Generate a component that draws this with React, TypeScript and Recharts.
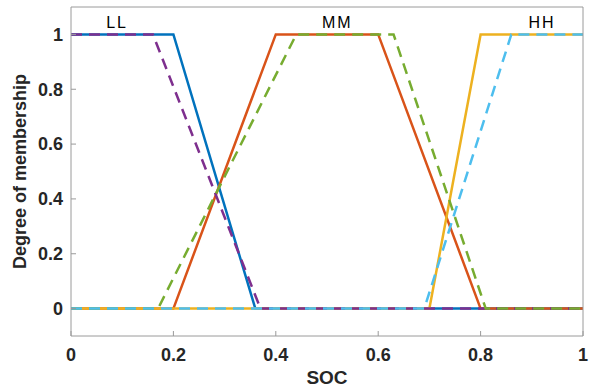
import { LineChart, Line, XAxis, YAxis, ReferenceDot } from 'recharts';

// membership functions: solid = set 1, dashed = set 2
const llSolid = [
  { x: 0, y: 1 },
  { x: 0.2, y: 1 },
  { x: 0.36, y: 0 },
  { x: 1, y: 0 },
];
const mmSolid = [
  { x: 0, y: 0 },
  { x: 0.2, y: 0 },
  { x: 0.4, y: 1 },
  { x: 0.6, y: 1 },
  { x: 0.8, y: 0 },
  { x: 1, y: 0 },
];
const hhSolid = [
  { x: 0, y: 0 },
  { x: 0.7, y: 0 },
  { x: 0.8, y: 1 },
  { x: 1, y: 1 },
];
const llDashed = [
  { x: 0, y: 1 },
  { x: 0.16, y: 1 },
  { x: 0.37, y: 0 },
  { x: 1, y: 0 },
];
const mmDashed = [
  { x: 0, y: 0 },
  { x: 0.17, y: 0 },
  { x: 0.44, y: 1 },
  { x: 0.63, y: 1 },
  { x: 0.81, y: 0 },
  { x: 1, y: 0 },
];
const hhDashed = [
  { x: 0, y: 0 },
  { x: 0.69, y: 0 },
  { x: 0.86, y: 1 },
  { x: 1, y: 1 },
];

const setLabels = [
  { name: 'LL', x: 0.09, y: 1.042 },
  { name: 'MM', x: 0.52, y: 1.042 },
  { name: 'HH', x: 0.92, y: 1.042 },
];

const xTicks = [0, 0.2, 0.4, 0.6, 0.8, 1];
const yTicks = [0, 0.2, 0.4, 0.6, 0.8, 1];

const FONT = '"Liberation Sans", Arial, sans-serif';
const AXIS = '#9a9a9a';
const TEXT = '#262626';

export default function App() {
  const tickStyle = { fontSize: 18, fontWeight: 700, fill: TEXT, fontFamily: FONT };
  const dash = '11 7';

  return (
    <div style={{ position: 'absolute', left: 0, top: 0, background: '#fff' }}>
      <LineChart width={597} height={390} margin={{ top: 6, right: 13, left: 0, bottom: 0 }}>
        <XAxis
          dataKey="x"
          type="number"
          domain={[0, 1]}
          ticks={xTicks}
          height={54}
          stroke={AXIS}
          tickSize={-5}
          tickMargin={17}
          tick={tickStyle}
          label={{
            value: 'SOC',
            position: 'insideBottom',
            offset: 6,
            style: { fontSize: 19, fontWeight: 700, fill: TEXT, fontFamily: FONT },
          }}
        />
        <XAxis
          xAxisId="top"
          orientation="top"
          type="number"
          domain={[0, 1]}
          ticks={xTicks}
          height={1}
          stroke={AXIS}
          tickSize={-5}
          tick={false}
        />
        <YAxis
          type="number"
          domain={[-0.1, 1.1]}
          ticks={yTicks}
          width={71}
          stroke={AXIS}
          tickSize={-5}
          tickMargin={13}
          tick={tickStyle}
          label={{
            value: 'Degree of membership',
            angle: -90,
            position: 'insideLeft',
            offset: 20,
            style: { fontSize: 18, fontWeight: 700, fill: TEXT, fontFamily: FONT, textAnchor: 'middle' },
          }}
        />
        <YAxis
          yAxisId="right"
          orientation="right"
          type="number"
          domain={[-0.1, 1.1]}
          ticks={yTicks}
          width={1}
          stroke={AXIS}
          tickSize={-5}
          tick={false}
        />

        {/* solid set */}
        <Line data={llSolid} dataKey="y" stroke="#0072BD" strokeWidth={2.5} dot={false} isAnimationActive={false} />
        <Line data={mmSolid} dataKey="y" stroke="#D95319" strokeWidth={2.5} dot={false} isAnimationActive={false} />
        <Line data={hhSolid} dataKey="y" stroke="#EDB120" strokeWidth={2.5} dot={false} isAnimationActive={false} />

        {/* dashed set */}
        <Line data={llDashed} dataKey="y" stroke="#7E2F8E" strokeWidth={2.5} strokeDasharray={dash} dot={false} isAnimationActive={false} />
        <Line data={mmDashed} dataKey="y" stroke="#77AC30" strokeWidth={2.5} strokeDasharray={dash} dot={false} isAnimationActive={false} />
        <Line data={hhDashed} dataKey="y" stroke="#4DBEEE" strokeWidth={2.5} strokeDasharray={dash} dot={false} isAnimationActive={false} />

        {setLabels.map((s) => (
          <ReferenceDot
            key={s.name}
            x={s.x}
            y={s.y}
            r={1}
            shape={(p: any) => (
              <text
                x={p.cx}
                y={p.cy}
                textAnchor="middle"
                dominantBaseline="central"
                fontSize={16}
                fontFamily={FONT}
                letterSpacing={2}
                fill="#000"
              >
                {s.name}
              </text>
            )}
          />
        ))}
      </LineChart>
    </div>
  );
}
